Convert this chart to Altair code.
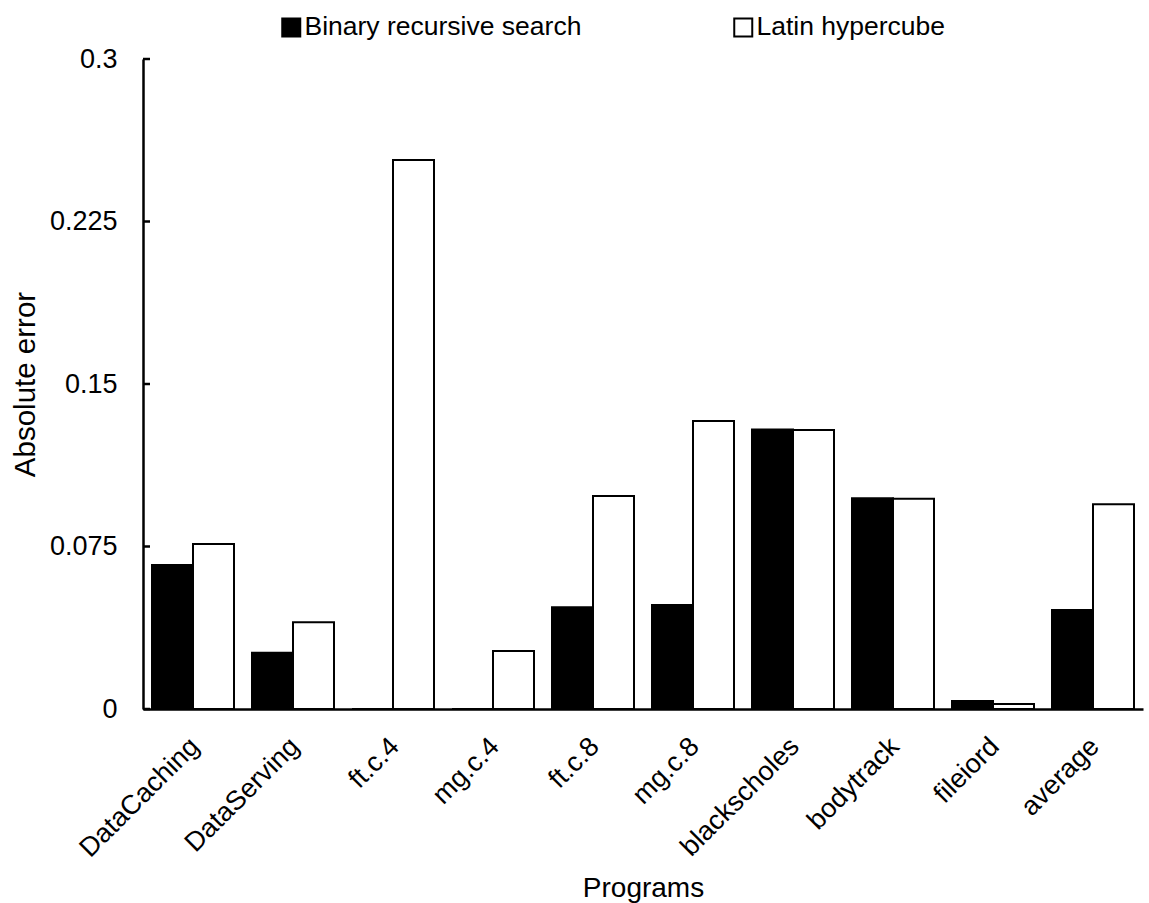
import altair as alt
import pandas as pd

# Absolute prediction error per program for the two sampling strategies
programs = ["DataCaching", "DataServing", "ft.c.4", "mg.c.4", "ft.c.8",
            "mg.c.8", "blackscholes", "bodytrack", "fileiord", "average"]
series = ["Binary recursive search", "Latin hypercube"]
binary_search = [0.0665, 0.026, 0.0, 0.0, 0.047, 0.048, 0.129, 0.0973, 0.0037, 0.0457]
latin_hypercube = [0.0762, 0.040, 0.2534, 0.0268, 0.0983, 0.1329, 0.1288, 0.097, 0.0023, 0.0945]
y_ticks = [0, 0.075, 0.15, 0.225, 0.3]

FONT = "Liberation Sans"

rows = []
for p, b, l in zip(programs, binary_search, latin_hypercube):
    rows.append({"program": p, "series": series[0], "error": b})
    rows.append({"program": p, "series": series[1], "error": l})
df = pd.DataFrame(rows)

y_scale = alt.Scale(domain=[0, 0.3], nice=False, zero=True)
y_axis = alt.Axis(
    title="Absolute error",
    titleFont=FONT,
    titleFontSize=29.5,
    titleFontWeight="normal",
    titleColor="black",
    titleAngle=270,
    titleAlign="center",
    titleBaseline="middle",
    titleX=-118,
    titleY=325,
    values=y_ticks,
    format=".3~f",
    labelFont=FONT,
    labelFontSize=27,
    labelColor="black",
    labelPadding=26,
    ticks=False,
    tickSize=0,
    domainColor="black",
    domainWidth=2.5,
    grid=False,
)

bars = alt.Chart(df).mark_bar(stroke="black", strokeWidth=2).encode(
    x=alt.X(
        "program:N",
        sort=programs,
        scale=alt.Scale(paddingInner=0.18, paddingOuter=0.09),
        axis=alt.Axis(
            title="Programs",
            titleFont=FONT,
            titleFontSize=28,
            titleFontWeight="normal",
            titleColor="black",
            titleY=187,
            titleBaseline="alphabetic",
            labelAngle=315,
            labelAlign="right",
            labelBaseline="middle",
            labelFont=FONT,
            labelFontSize=27,
            labelColor="black",
            labelPadding=33,
            labelOffset=2,
            labelLimit=400,
            ticks=False,
            tickSize=0,
            domainColor="black",
            domainWidth=2.5,
            grid=False,
        ),
    ),
    xOffset=alt.XOffset(
        "series:N", sort=series, scale=alt.Scale(paddingInner=0, paddingOuter=0)
    ),
    y=alt.Y("error:Q", scale=y_scale, axis=y_axis),
    color=alt.Color(
        "series:N",
        sort=series,
        scale=alt.Scale(domain=series, range=["black", "white"]),
        legend=alt.Legend(
            title=None,
            orient="none",
            direction="horizontal",
            legendX=135,
            legendY=-45,
            padding=0,
            symbolType="square",
            symbolSize=324,
            symbolStrokeColor="black",
            symbolStrokeWidth=2,
            labelFont=FONT,
            labelFontSize=26.5,
            labelColor="black",
            labelOffset=0,
            labelLimit=500,
            columnPadding=148,
        ),
    ),
)

# inward tick marks on the value axis
ticks = alt.Chart(pd.DataFrame({"error": y_ticks})).mark_rule(
    color="black", strokeWidth=2.5
).encode(
    y=alt.Y("error:Q", scale=y_scale, axis=y_axis),
    x=alt.value(0),
    x2=alt.value(7),
)

chart = alt.layer(bars, ticks).properties(
    width=1000,
    height=650,
    autosize=alt.AutoSizeParams(type="none"),
    padding={"left": 143, "top": 59, "right": 6, "bottom": 194},
    background="white",
).configure_view(stroke=None)

chart.save("out.html", embed_options={"renderer": "svg", "actions": False})
